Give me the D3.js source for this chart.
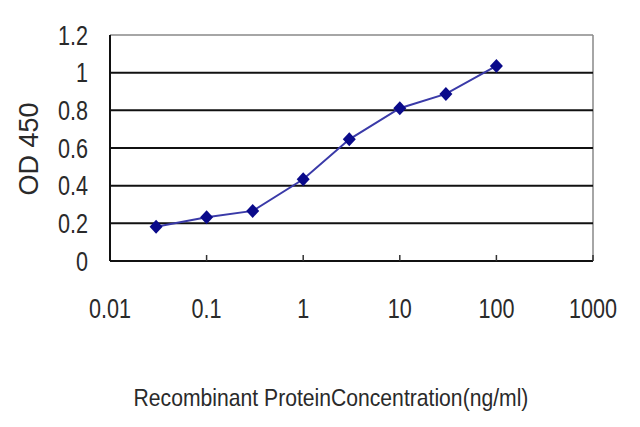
<!DOCTYPE html>
<html>
<head>
<meta charset="utf-8">
<script src="https://cdn.jsdelivr.net/npm/d3@7"></script>
<style>
  body { margin: 0; background: #fff; }
  text { font-family: "Liberation Sans", Arial, sans-serif; fill: #2a2a2a; }
</style>
</head>
<body>
<svg id="chart" width="640" height="427"></svg>
<script>
// concentrations (ng/ml) and OD 450 readings
const concentrations = [0.03, 0.1, 0.3, 1, 3, 10, 30, 100];
const odValues = [0.182, 0.232, 0.266, 0.434, 0.646, 0.811, 0.887, 1.036];
const xTicks = [0.01, 0.1, 1, 10, 100, 1000];
const xTickLabels = ["0.01", "0.1", "1", "10", "100", "1000"];
const yTicks = [0, 0.2, 0.4, 0.6, 0.8, 1, 1.2];
const yTickLabels = ["0", "0.2", "0.4", "0.6", "0.8", "1", "1.2"];

const margin = { top: 35, right: 47, bottom: 166, left: 110 };
const width = 640 - margin.left - margin.right;
const height = 427 - margin.top - margin.bottom;
const squeeze = 0.8; // the original text is narrow and tall

const svg = d3.select("#chart");
const g = svg.append("g").attr("transform", `translate(${margin.left},${margin.top})`);

const x = d3.scaleLog().domain([0.01, 1000]).range([0, width]);
const y = d3.scaleLinear().domain([0, 1.2]).range([height, 0]);

// frame: grey top & right
g.append("line").attr("x1", 0).attr("x2", width).attr("y1", y(1.2)).attr("y2", y(1.2))
  .attr("stroke", "#888").attr("stroke-width", 1.5);
g.append("line").attr("x1", width).attr("x2", width).attr("y1", 0).attr("y2", height)
  .attr("stroke", "#888").attr("stroke-width", 1.5);

// gridlines
g.selectAll(".grid")
  .data(yTicks.filter(d => d > 0 && d < 1.2))
  .join("line")
  .attr("class", "grid")
  .attr("x1", 0).attr("x2", width)
  .attr("y1", d => y(d)).attr("y2", d => y(d))
  .attr("stroke", "#111").attr("stroke-width", 2);

// axes lines
g.append("line").attr("x1", 0).attr("x2", 0).attr("y1", 0).attr("y2", height)
  .attr("stroke", "#111").attr("stroke-width", 2);
g.append("line").attr("x1", 0).attr("x2", width).attr("y1", height).attr("y2", height)
  .attr("stroke", "#111").attr("stroke-width", 2);

// x ticks (inward)
g.selectAll(".xtick")
  .data(xTicks.slice(1))
  .join("line")
  .attr("class", "xtick")
  .attr("x1", d => x(d)).attr("x2", d => x(d))
  .attr("y1", height).attr("y2", height - 6)
  .attr("stroke", "#333").attr("stroke-width", 1.5);

// y tick labels
g.selectAll(".ylab")
  .data(yTicks)
  .join("text")
  .attr("class", "ylab")
  .attr("transform", d => `translate(-22,${y(d)}) scale(${squeeze},1)`)
  .attr("dy", "0.36em")
  .attr("text-anchor", "end")
  .style("font-size", "27px")
  .text((d, i) => yTickLabels[i]);

// x tick labels
g.selectAll(".xlab")
  .data(xTicks)
  .join("text")
  .attr("class", "xlab")
  .attr("transform", d => `translate(${x(d)},${height + 57}) scale(${squeeze},1)`)
  .attr("text-anchor", "middle")
  .style("font-size", "27px")
  .text((d, i) => xTickLabels[i]);

// axis titles
const xTitle = svg.append("text")
  .attr("text-anchor", "middle")
  .style("font-size", "24px")
  .text("Recombinant ProteinConcentration(ng/ml)");
const titleLen = xTitle.node().getComputedTextLength();
xTitle.attr("transform", `translate(331,406) scale(${395 / titleLen},1)`);

svg.append("text")
  .attr("transform", "translate(38,149) rotate(-90)")
  .attr("text-anchor", "middle")
  .style("font-size", "27px")
  .text("OD 450");

// series line
const pts = concentrations.map((c, i) => [c, odValues[i]]);
g.append("path")
  .datum(pts)
  .attr("fill", "none")
  .attr("stroke", "#3a3aa8")
  .attr("stroke-width", 2)
  .attr("d", d3.line().x(d => x(d[0])).y(d => y(d[1])));

// diamond markers
g.selectAll(".pt")
  .data(pts)
  .join("path")
  .attr("class", "pt")
  .attr("transform", d => `translate(${x(d[0])},${y(d[1])})`)
  .attr("d", "M0,-7L6.5,0L0,7L-6.5,0Z")
  .attr("fill", "#0a0a8a");
</script>
</body>
</html>
